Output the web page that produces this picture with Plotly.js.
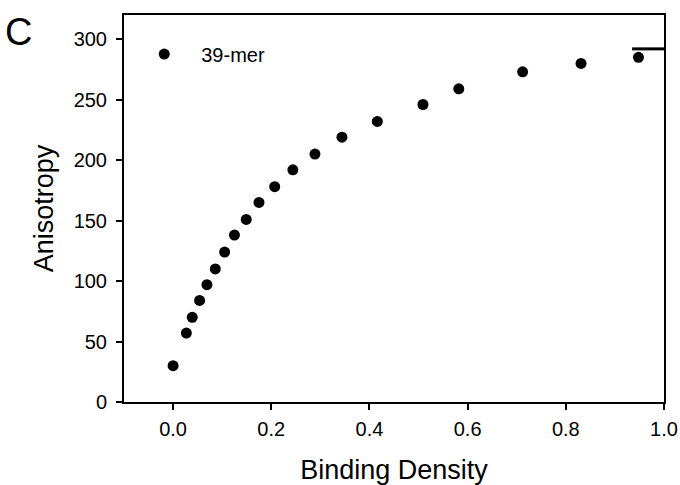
<!DOCTYPE html>
<html>
<head>
<meta charset="utf-8">
<script src="https://cdn.plot.ly/plotly-3.0.1.min.js"></script>
<style>html,body{margin:0;padding:0;background:#fff;}#chart{width:680px;height:485px;}</style>
</head>
<body>
<div id="chart"></div>
<script>
const seriesName = "39-mer";
const bindingDensity = [0.0, 0.027, 0.039, 0.054, 0.069, 0.086, 0.105, 0.125, 0.149, 0.175, 0.207, 0.244, 0.289, 0.344, 0.416, 0.509, 0.582, 0.712, 0.831, 0.948];
const anisotropy = [30, 57, 70, 84, 97, 110, 124, 138, 151, 165, 178, 192, 205, 219, 232, 246, 259, 273, 280, 285];
const limitX = [0.935, 1.0];
const limitY = [292, 292];
const xTicks = [0.0, 0.2, 0.4, 0.6, 0.8, 1.0];
const xTickLabels = ["0.0", "0.2", "0.4", "0.6", "0.8", "1.0"];
const yTicks = [0, 50, 100, 150, 200, 250, 300];
const panelLabel = "C";

const font = "Liberation Sans, Arial, sans-serif";
const data = [
  {x: bindingDensity, y: anisotropy, type: 'scatter', mode: 'markers', name: seriesName,
   marker: {color: '#000', size: 11}},
  {x: limitX, y: limitY, type: 'scatter', mode: 'lines', showlegend: false,
   line: {color: '#000', width: 3}, hoverinfo: 'skip'}
];
const layout = {
  width: 680, height: 485,
  margin: {l: 124, r: 16, t: 15, b: 83},
  paper_bgcolor: '#fff', plot_bgcolor: '#fff',
  font: {family: font, color: '#000', size: 20},
  showlegend: true,
  legend: {x: 0.006, y: 0.899, xanchor: 'left', yanchor: 'middle', bgcolor: 'rgba(0,0,0,0)',
           font: {size: 20, family: font}, itemwidth: 64},
  xaxis: {range: [-0.1, 1.0], tickvals: xTicks, ticktext: xTickLabels,
          showline: true, linecolor: '#000', linewidth: 2, mirror: true,
          ticks: 'outside', ticklen: 6, tickwidth: 2, tickcolor: '#000',
          showgrid: false, zeroline: false, tickfont: {size: 20}, ticklabelstandoff: 2,
          title: {text: 'Binding Density', font: {size: 27}, standoff: 22}},
  yaxis: {range: [0, 320], tickvals: yTicks,
          showline: true, linecolor: '#000', linewidth: 2, mirror: true,
          ticks: 'outside', ticklen: 6, tickwidth: 2, tickcolor: '#000',
          showgrid: false, zeroline: false, tickfont: {size: 20}, ticklabelstandoff: 5,
          title: {text: 'Anisotropy', font: {size: 27}, standoff: 12}},
  annotations: [{text: panelLabel, xref: 'paper', yref: 'paper', x: -0.2, y: 1.0,
                 xanchor: 'center', yanchor: 'middle', showarrow: false,
                 font: {size: 38, family: font}, xshift: 2, yshift: -17}]
};
Plotly.newPlot('chart', data, layout, {displayModeBar: false, staticPlot: true});
</script>
</body>
</html>
